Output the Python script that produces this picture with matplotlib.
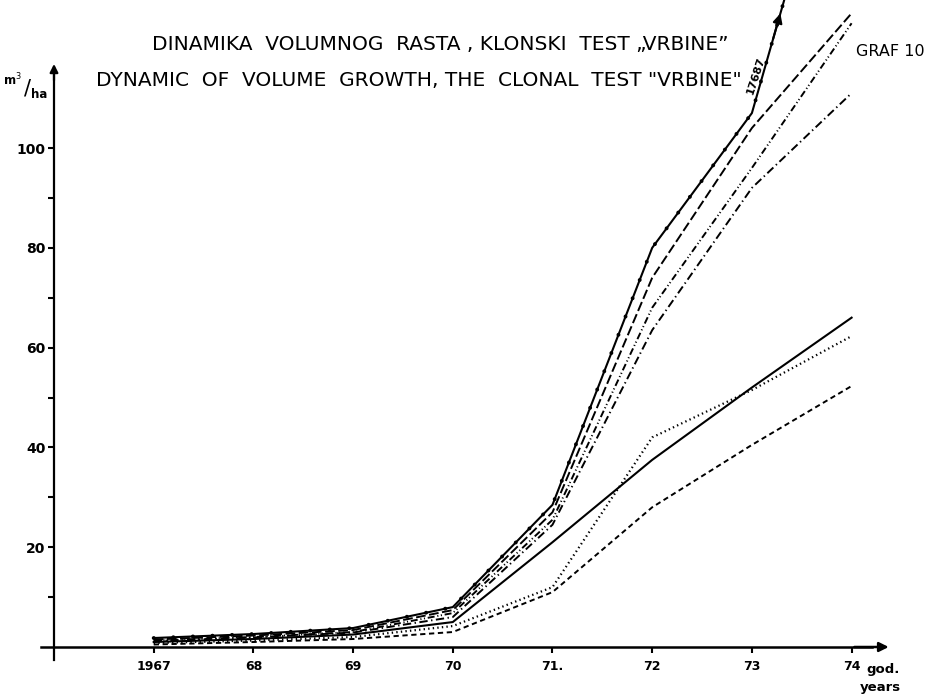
import numpy as np
import matplotlib
matplotlib.use("Agg")
from matplotlib import pyplot as plt

plt.rcParams["lines.scale_dashes"] = False
plt.rcParams["font.family"] = ["DejaVu Sans"]

# years on the x axis
years = [1967, 1968, 1969, 1970, 1971, 1972, 1973, 1974]
year_labels = ["1967", "68", "69", "70", "71.", "72", "73", "74"]

# volume, m3/ha (one list per clone)
clone_a = [1.8, 2.6, 3.8, 8.0, 28.5, 80.0, 107.0, 176.87]  # solid with dots, runs off the top
clone_b = [1.5, 2.3, 3.4, 7.4, 27.0, 74.0, 104.0, 127.0]   # long dashes
clone_c = [1.3, 2.0, 3.0, 6.8, 25.5, 68.0, 96.0, 125.0]    # dash dot dot
clone_d = [1.2, 1.9, 2.9, 6.0, 24.5, 63.5, 92.0, 111.0]    # dash dot
clone_e = [1.0, 1.6, 2.5, 5.0, 21.0, 37.5, 52.0, 66.0]     # solid
clone_f = [0.8, 1.3, 2.0, 4.2, 12.0, 42.0, 51.5, 62.3]     # dotted
clone_g = [0.5, 1.0, 1.6, 3.0, 11.0, 28.0, 40.5, 52.3]     # short dashes

y_major = [20, 40, 60, 80, 100]
y_minor = [10, 30, 50, 70, 90]

W, H = 926, 694


def fx(px):
    return px / W


def fy(py):
    return 1 - py / H


fig = plt.figure(figsize=(9.26, 6.94), dpi=100)
ax = fig.add_axes([0, 0, 1, 1])

# scale: 1966 at px 54, 99.7 px per year; 0 at px 647, 4.99 px per unit
px_year = 99.7
px_unit = 4.99
ax.set_xlim(1966 - 54 / px_year, 1966 + (W - 54) / px_year)
ax.set_ylim(-(H - 647) / px_unit, 647 / px_unit)

lw = 1.4
ax.plot(years, clone_a, color="black", lw=1.5, solid_capstyle="butt")
ax.plot(years, clone_a, color="black", lw=2.8, linestyle=(0, (0.1, 14)),
        dash_capstyle="round")
ax.plot(years, clone_b, color="black", lw=lw, linestyle=(0, (7, 2.5)))
ax.plot(years, clone_c, color="black", lw=lw,
        linestyle=(0, (5, 2, 0.8, 1.8, 0.8, 2)))
ax.plot(years, clone_d, color="black", lw=lw, linestyle=(0, (6, 2.5, 1, 2.5)))
ax.plot(years, clone_e, color="black", lw=1.5)
ax.plot(years, clone_f, color="black", lw=1.6, linestyle=(0, (1, 2.3)))
ax.plot(years, clone_g, color="black", lw=lw, linestyle=(0, (3.8, 2.6)))

# arrow where the top clone leaves the sheet
top_v = 127.5
t = (top_v - clone_a[6]) / (clone_a[7] - clone_a[6])
tip_x = years[6] + t * (years[7] - years[6])
ax.annotate("", xy=(tip_x, top_v),
            xytext=(years[6] + 0.7 * t, clone_a[6] + 0.7 * (top_v - clone_a[6])),
            arrowprops=dict(arrowstyle="-|>", color="black", lw=1.5,
                            mutation_scale=14))
fig.text(fx(756), fy(76), "17687", rotation=72, ha="center", va="center",
         fontsize=8, fontweight="bold")

# axes as a hand drawn cross
for s in ["top", "right"]:
    ax.spines[s].set_visible(False)
ax.spines["left"].set_position(("data", 1966))
ax.spines["bottom"].set_position(("data", 0))
ax.spines["left"].set_bounds(-2.6, 116)
ax.spines["bottom"].set_bounds(1965.87, 1974.2)
ax.spines["left"].set_linewidth(1.6)
ax.spines["bottom"].set_linewidth(1.8)
ax.annotate("", xy=(1974.4, 0), xytext=(1974.0, 0),
            arrowprops=dict(arrowstyle="-|>", color="black", lw=1.8,
                            mutation_scale=14))
ax.annotate("", xy=(1966, 117.4), xytext=(1966, 113),
            arrowprops=dict(arrowstyle="-|>", color="black", lw=1.6,
                            mutation_scale=12))

ax.set_xticks(years)
ax.set_xticklabels(year_labels)
ax.set_yticks(y_major)
ax.set_yticks(y_minor, minor=True)
ax.tick_params(axis="x", direction="out", length=4.5, width=1.5, pad=5,
               labelsize=9)
ax.tick_params(axis="y", which="both", direction="out", length=4.5,
               width=1.5, pad=1.5, labelsize=10)
for lab in ax.get_xticklabels() + ax.get_yticklabels():
    lab.set_fontweight("bold")

# titles and units
fig.text(fx(440), fy(45), "DINAMIKA  VOLUMNOG  RASTA , KLONSKI  TEST \u201eVRBINE\u201d",
         ha="center", va="center", fontsize=14.5)
fig.text(fx(419), fy(80), "DYNAMIC  OF  VOLUME  GROWTH, THE  CLONAL  TEST \"VRBINE\"",
         ha="center", va="center", fontsize=14.5)
fig.text(fx(890), fy(51), "GRAF 10", ha="center", va="center", fontsize=11.5)

fig.text(fx(12), fy(80), "m$^3$", ha="center", va="center", fontsize=8.5,
         fontweight="bold")
fig.text(fx(27), fy(88), "/", ha="center", va="center", fontsize=15)
fig.text(fx(39), fy(95), "ha", ha="center", va="center", fontsize=8.5,
         fontweight="bold")

fig.text(fx(883), fy(670), "god.", ha="center", va="center", fontsize=9.5,
         fontweight="bold")
fig.text(fx(880), fy(687), "years", ha="center", va="center", fontsize=9.5,
         fontweight="bold")

fig.savefig("out.png", dpi=100, facecolor="white")
